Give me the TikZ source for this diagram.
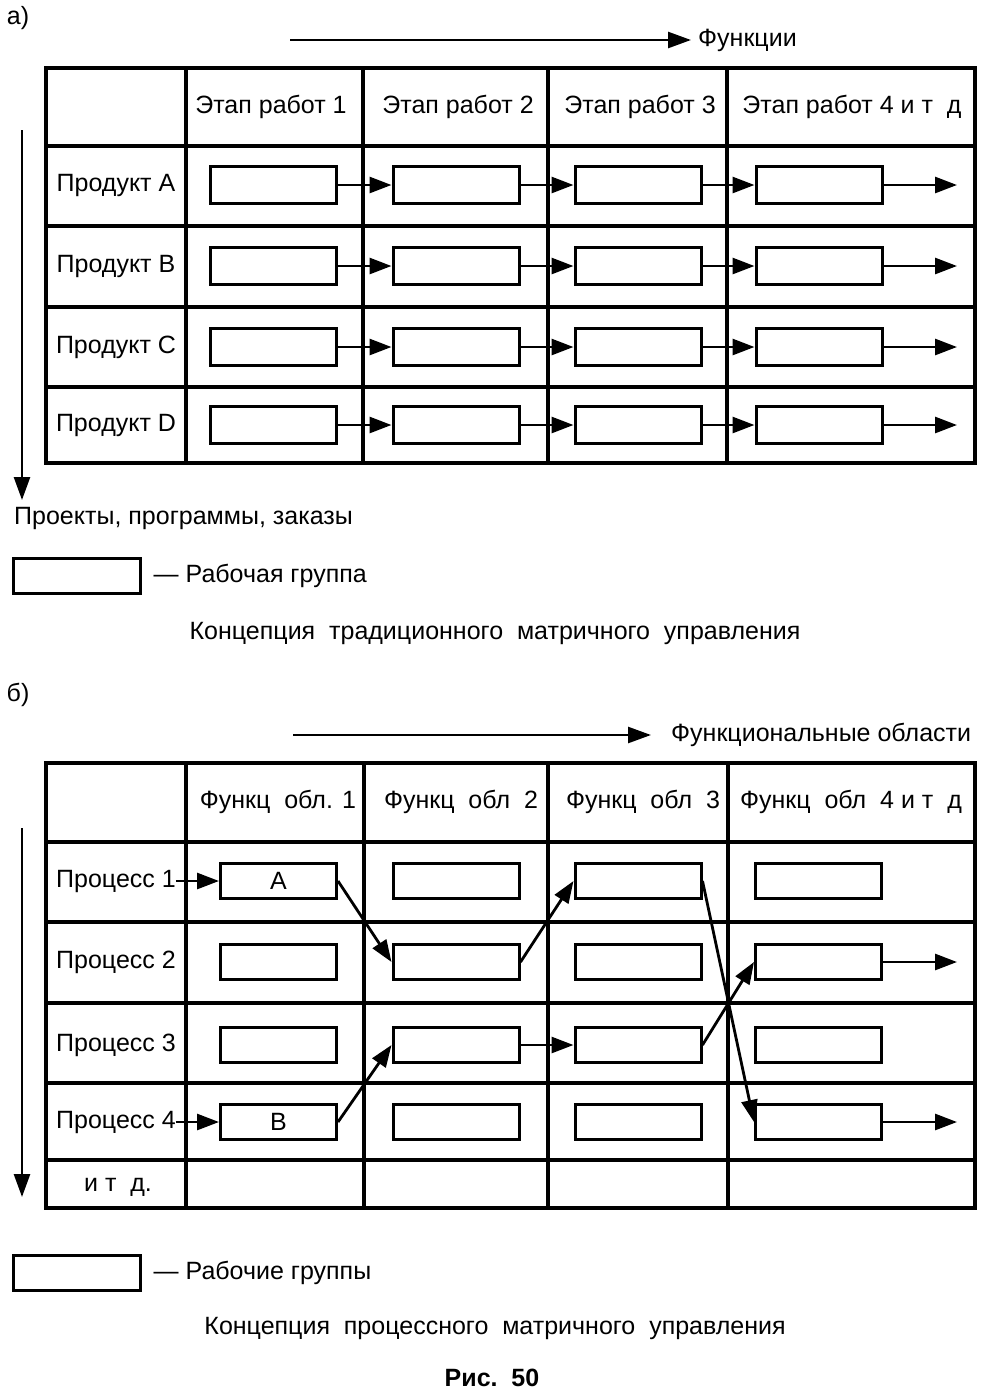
\documentclass[tikz,border=0pt]{standalone}
\usepackage{fontspec}
\setmainfont{Liberation Sans}
\usetikzlibrary{arrows.meta,positioning}
\newcommand{\txt}{\fontsize{25}{29}\selectfont}
\tikzset{
  grpbox/.style={rectangle,draw=black,line width=3pt,minimum width=126pt,
                 minimum height=37pt,inner sep=0pt,font=\txt},
  lbl/.style={inner sep=0pt,font=\txt},
  arr/.style={-{Triangle[length=22pt,width=16pt]},line width=2.8pt},
  axarr/.style={-{Triangle[length=23pt,width=16pt]},line width=2.6pt},
  gridline/.style={line width=3.2pt}
}

\begin{document}
\begin{tikzpicture}[x=1pt,y=-1pt]
  \useasboundingbox (0,0) rectangle (984,1390);

  % ---------------- a) ----------------
  \node[lbl] (tagA) at (18,18) {а)};

  % Functions axis
  \node[lbl,anchor=west,inner xsep=7pt] (funk) at (691,40) {Функции};
  \coordinate (fa0) at (290,40);
  \draw[axarr] (fa0) -- (funk.west);

  % Projects axis
  \coordinate (pa0) at (22,130);
  \coordinate (pa1) at (22,500);
  \draw[axarr] (pa0) -- (pa1);
  \node[lbl,anchor=west] (proj) at (14,518) {Проекты, программы, заказы};

  % Grid
  \draw[gridline] (46,68) rectangle (975,463);
  \foreach \x in {186,363,548,727}
    \draw[gridline] (\x,68) -- (\x,463);
  \foreach \y in {146,226,307,387}
    \draw[gridline] (46,\y) -- (975,\y);

  % Column heads
  \foreach \x/\t [count=\i] in {271/Этап работ 1,458/Этап работ 2,
      640/Этап работ 3,852/Этап работ 4 и т\ \ д}
    \node[lbl] (ha\i) at (\x,107) {\t};

  % Rows: label, work groups, arrows
  \foreach \y/\t [count=\r] in {185/Продукт A,266/Продукт B,
      347/Продукт C,425/Продукт D} {
    \node[lbl] (ra\r) at (116,\y) {\t};
    \foreach \x [count=\c] in {273,456,638,819}
      \node[grpbox] (a\r\c) at (\x,\y) {};
    \coordinate (ea\r) at (957,\y);
    \draw[arr] (a\r1) -- (a\r2);
    \draw[arr] (a\r2) -- (a\r3);
    \draw[arr] (a\r3) -- (a\r4);
    \draw[arr] (a\r4) -- (ea\r);
  }

  % Legend and caption
  \node[grpbox,minimum width=127pt,minimum height=35pt] (legA) at (76.5,575.5) {};
  \node[lbl,right=12pt of legA] (legAt) {— Рабочая группа};
  \node[lbl] (capA) at (495,633) {Концепция\ \ традиционного\ \ матричного\ \ управления};

  % ---------------- b) ----------------
  \node[lbl] (tagB) at (18,695) {б)};

  % Functional areas axis
  \node[lbl,anchor=west,inner xsep=20pt] (fobl) at (651,735) {Функциональные области};
  \coordinate (fb0) at (293,735);
  \draw[axarr] (fb0) -- (fobl.west);

  % Processes axis
  \coordinate (pb0) at (22,828);
  \coordinate (pb1) at (22,1197);
  \draw[axarr] (pb0) -- (pb1);

  % Grid
  \draw[gridline] (46,763) rectangle (975,1208);
  \foreach \x in {186,364,548,728}
    \draw[gridline] (\x,763) -- (\x,1208);
  \foreach \y in {842,922,1003,1083,1160}
    \draw[gridline] (46,\y) -- (975,\y);

  % Column heads
  \foreach \x/\t [count=\i] in {278/Функц\ \ обл. 1,461/Функц\ \ обл\ \ 2,
      643/Функц\ \ обл\ \ 3,851/Функц\ \ обл\ \ 4 и т\ \ д}
    \node[lbl] (hb\i) at (\x,802) {\t};

  % Rows
  \foreach \y/\t [count=\r] in {881/Процесс 1,962/Процесс 2,
      1045/Процесс 3,1122/Процесс 4} {
    \node[lbl] (rb\r) at (116,\y) {\t};
    \node[grpbox,minimum width=116pt,minimum height=35pt] (b\r1) at (278.5,\y) {};
    \foreach \x [count=\c from 2] in {456,638,818.5}
      \node[grpbox,minimum height=35pt] (b\r\c) at (\x,\y) {};
  }
  \node[lbl] (rb5) at (118,1187) {и т\ \ д.};
  \node[lbl] at (b11) {А};
  \node[lbl] at (b41) {В};

  % Process flows
  \coordinate (eb2) at (957,962);
  \coordinate (eb4) at (957,1122);
  \draw[arr] (rb1) -- (b11);
  \draw[arr] (b11.east) -- (b22.west);
  \draw[arr] (b22.east) -- (b13.west);
  \draw[arr] (b13.east) -- (b44.west);
  \draw[arr] (b24) -- (eb2);
  \draw[arr] (rb4) -- (b41);
  \draw[arr] (b41.east) -- (b32.west);
  \draw[arr] (b32) -- (b33);
  \draw[arr] (b33.east) -- (b24.west);
  \draw[arr] (b44) -- (eb4);

  % Legend and caption
  \node[grpbox,minimum width=127pt,minimum height=35pt] (legB) at (76.5,1272.5) {};
  \node[lbl,right=12pt of legB] (legBt) {— Рабочие группы};
  \node[lbl] (capB) at (495,1328) {Концепция\ \ процессного\ \ матричного\ \ управления};
  \node[lbl,font=\txt\bfseries] (fig) at (492,1378) {Рис.\ \ 50};
\end{tikzpicture}
\end{document}
